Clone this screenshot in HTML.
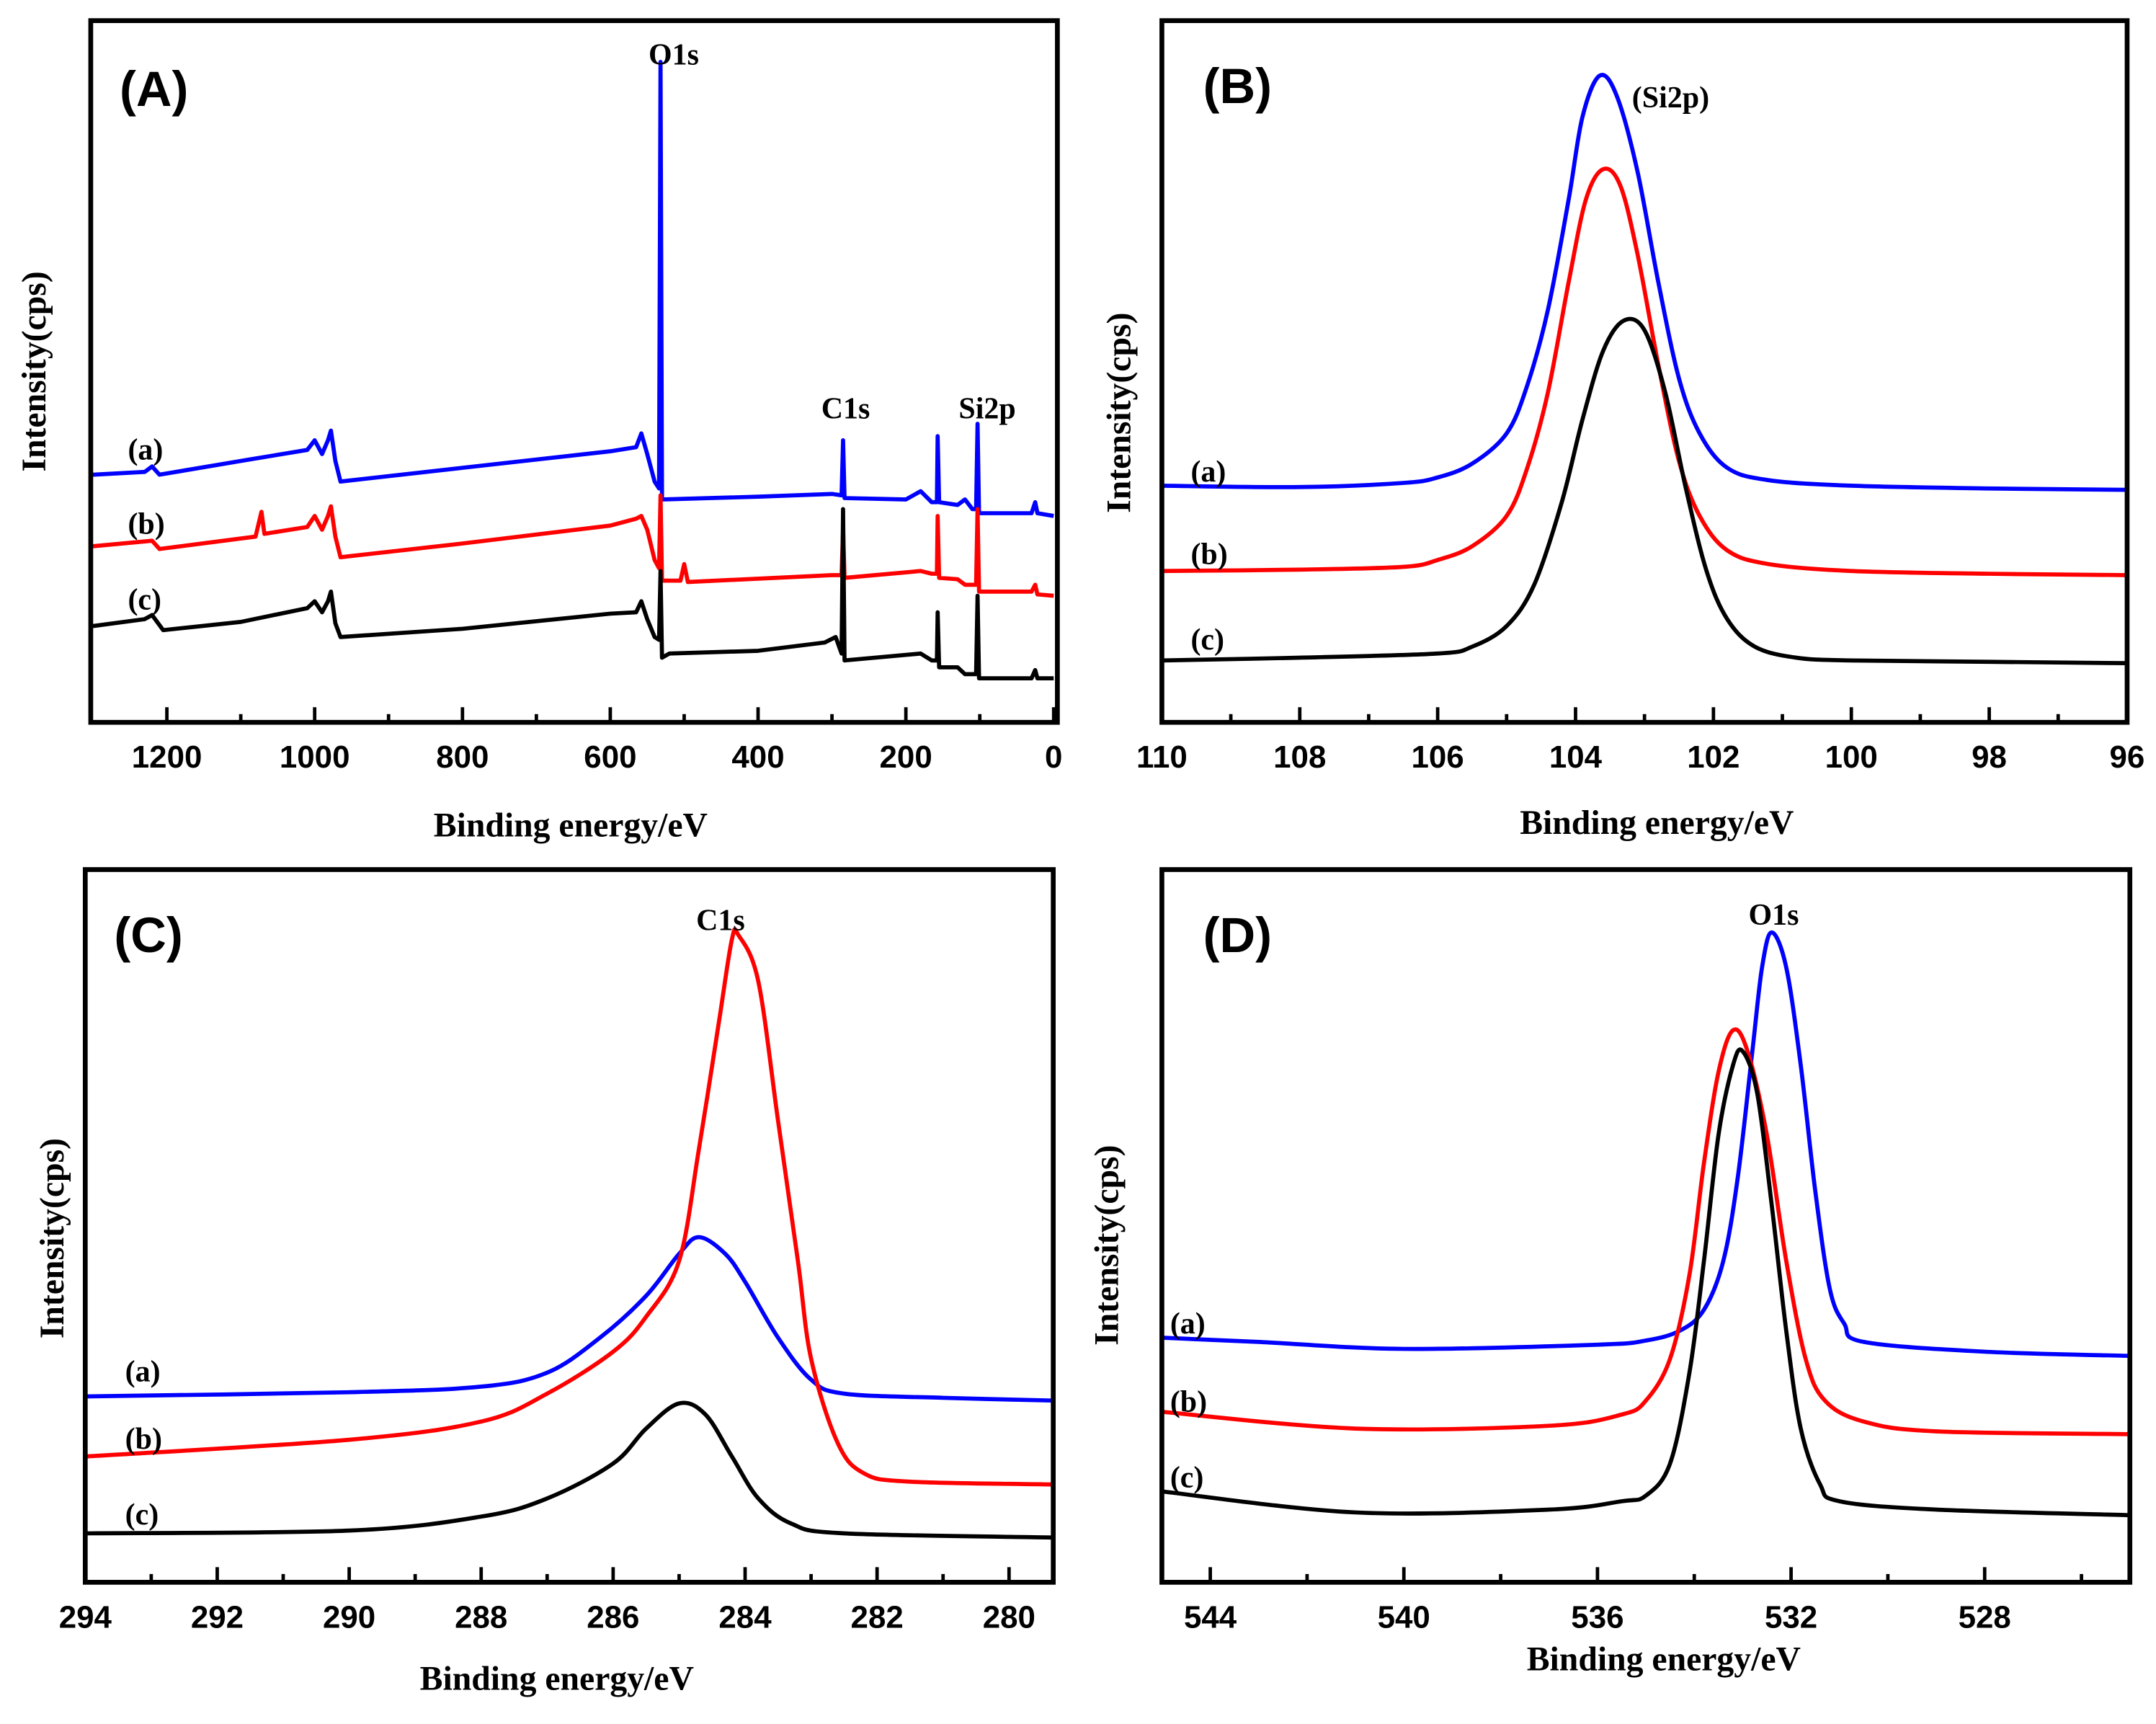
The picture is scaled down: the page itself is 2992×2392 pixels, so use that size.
<!DOCTYPE html>
<html><head><meta charset="utf-8"><style>
html,body{margin:0;padding:0;background:#fff;}
svg{display:block;}
.tk{font-family:"Liberation Sans",sans-serif;font-weight:bold;font-size:23px;}
.ttl{font-family:"Liberation Serif",serif;font-weight:bold;font-size:25px;}
.pl{font-family:"Liberation Sans",sans-serif;font-weight:bold;font-size:36px;}
.sl{font-family:"Liberation Serif",serif;font-weight:bold;font-size:22px;}
</style></head><body>
<svg id="fig" width="2992" height="2392" viewBox="0 0 1568 1253" preserveAspectRatio="none" xmlns="http://www.w3.org/2000/svg"></svg>
<script>
// Panel A (survey)
const aE_blue=[1300,1230,1220,1210,1100,1010,1000,990,982,978,972,965,800,600,565,558,550,540,534,532,530,400,300,287,285,283,200,180,165,158,157,155,130,120,110,105,103,101,30,25,22,0];
const aI_blue=[180,182,186,180,190,198,205,195,205,212,190,175,185,197,200,210,195,175,170,480,162,164,166,165,205,163,162,168,160,160,208,160,158,162,155,155,217,152,152,160,152,150];
const aE_red=[1300,1220,1210,1080,1072,1068,1010,1000,990,982,978,972,965,800,600,565,558,550,540,534,532,530,505,500,495,300,287,285,283,180,165,158,157,155,130,120,105,103,101,30,25,22,0];
const aI_red=[128,132,126,135,153,137,142,150,140,150,157,135,120,130,143,148,150,140,118,112,165,103,103,115,102,107,107,140,105,110,108,108,150,105,104,100,100,155,95,95,100,93,92];
const aE_black=[1300,1230,1220,1205,1100,1010,1000,990,982,978,972,965,800,600,565,558,550,540,534,532,530,520,400,310,295,287,285,283,180,165,158,157,155,130,120,105,103,101,30,25,22,0];
const aI_black=[70,75,78,67,73,83,88,80,88,95,72,62,68,79,80,88,75,62,60,110,47,50,52,58,62,50,155,45,50,45,45,80,40,40,35,35,92,32,32,38,32,32];
// Panel B (Si2p)
const bE_blue=[110,108,106.5,106,105.5,105,104.7,104.4,104.1,103.9,103.65,103.4,103.1,102.8,102.5,102.2,101.8,101.2,100,98,96];
const bI_blue=[172,171,174,178,188,210,245,300,380,440,470,455,400,320,250,210,185,176,172,170,169];
const bE_red=[110,108,106.5,106,105.5,105,104.7,104.4,104.1,103.85,103.6,103.35,103.1,102.8,102.5,102.2,101.8,101.2,100,98,96];
const bI_red=[110,111,113,118,128,150,185,240,320,380,402,390,340,260,190,150,125,115,110,108,107];
const bE_black=[110,108,106,105.5,105,104.6,104.2,103.9,103.6,103.3,103.0,102.7,102.4,102.1,101.8,101.4,100.8,100,98,96];
const bI_black=[45,47,50,55,70,100,160,220,270,292,285,240,170,110,75,55,47,45,44,43];
// Panel C (C1s)
const cE_blue=[294,290,288,287,286.2,285.5,285,284.7,284.3,284,283.5,283,282.5,281,279.3];
const cI_blue=[133,136,140,150,175,205,235,247,235,215,175,145,135,132,130];
const cE_red=[294,290,288,287,286,285.5,285,284.7,284.4,284.2,284.1,283.8,283.5,283.2,283,282.6,282.2,281.5,279.3];
const cI_red=[90,102,115,135,165,190,230,310,400,460,463,430,330,230,160,100,78,72,70];
const cE_black=[294,290,288,287,286,285.5,285,284.6,284.2,283.8,283.3,282.5,279.3];
const cI_black=[35,37,47,60,85,110,128,120,90,60,42,35,32];
// Panel D (O1s)
const dE_blue=[545,543,540,536,535,534.3,533.8,533.4,533.1,532.8,532.6,532.4,532.1,531.8,531.5,531.2,530.9,530.5,528,525];
const dI_blue=[175,172,167,170,173,180,195,230,290,380,440,465,440,370,280,210,185,172,165,162];
const dE_red=[545,541,537,535.5,535,534.5,534.1,533.8,533.5,533.2,532.9,532.5,532.1,531.7,531.3,530.5,529,525];
const dI_red=[122,110,112,120,130,160,220,300,365,395,380,320,230,160,130,115,108,106];
const dE_black=[545,541,537,535.5,535,534.5,534.1,533.8,533.5,533.2,533.0,532.7,532.4,532.1,531.8,531.4,531,529,525];
const dI_black=[65,50,52,58,62,85,150,230,320,370,380,350,270,180,110,70,58,52,48];

const aTicks=[1200,1000,800,600,400,200,0];
const bTicks=[110,108,106,104,102,100,98,96];
const cTicks=[294,292,290,288,286,284,282,280];
const dTicks=[544,540,536,532,528];

const NS='http://www.w3.org/2000/svg';
const svg=document.getElementById('fig');
function mk(tag,attrs,parent){const e=document.createElementNS(NS,tag);for(const k in attrs)e.setAttribute(k,attrs[k]);(parent||svg).appendChild(e);return e;}
function txt(s,x,y,cls,parent,anchor,rot){const t=mk('text',{x:x,y:y,class:cls,'text-anchor':anchor||'middle'},parent);if(rot)t.setAttribute('transform','rotate(-90 '+x+' '+y+')');t.textContent=s;return t;}
function smoothPath(P){
  let d='M'+P[0][0].toFixed(2)+' '+P[0][1].toFixed(2);
  for(let i=0;i<P.length-1;i++){
    const p0=P[Math.max(0,i-1)],p1=P[i],p2=P[i+1],p3=P[Math.min(P.length-1,i+2)];
    const c1=[p1[0]+(p2[0]-p0[0])/6,p1[1]+(p2[1]-p0[1])/6];
    const c2=[p2[0]-(p3[0]-p1[0])/6,p2[1]-(p3[1]-p1[1])/6];
    d+=' C'+c1[0].toFixed(2)+' '+c1[1].toFixed(2)+' '+c2[0].toFixed(2)+' '+c2[1].toFixed(2)+' '+p2[0].toFixed(2)+' '+p2[1].toFixed(2);
  }
  return d;
}

function panel(o){
  const g=mk('g',{});
  
  
  const X=v=>o.x0+(o.xMax-v)/(o.xMax-o.xMin)*(o.x1-o.x0);
  const Y=v=>o.y1-v/510*(o.y1-o.y0);
  for(let v=o.xMinT;v>=o.xMaxT-1e-9;v-=o.minor){
    const isMaj=Math.abs((v-o.ticks[o.ticks.length-1])/o.major-Math.round((v-o.ticks[o.ticks.length-1])/o.major))<1e-6;
    const xt=X(v); if(xt<o.x0+2||xt>o.x1-2)continue;
    const l=mk('line',{x1:xt,x2:xt,y1:o.y1,y2:o.y1-(isMaj?11:6),stroke:'#000','stroke-width':2.5},g);
    
    
  }
  o.ticks.forEach(v=>{const t=txt(String(v),X(v),o.y1+33,'tk',g);
    
    });
  o.series.forEach(s=>{
    const P=s.e.map((e,i)=>[X(e),Y(s.i[i])]);
    const d=o.smooth?smoothPath(P):P.map((p,i)=>(i?'L':'M')+p[0].toFixed(2)+' '+p[1].toFixed(2)).join(' ');
    const p=mk('path',{d:d,fill:'none',stroke:s.c,'stroke-width':3,'stroke-linejoin':'round'},g);
    
    
  });
  const r=mk('rect',{x:o.x0,y:o.y0,width:o.x1-o.x0,height:o.y1-o.y0,fill:'none',stroke:'#000','stroke-width':3.5},g);
  
  
  let t=txt('Binding energy/eV',o.xt[0],o.xt[1],'ttl',g);
  
  
  t=txt('Intensity(cps)',o.yt[0],o.yt[1],'ttl',g,'middle',true);
  
  
  t=txt('('+o.id+')',o.pl[0],o.pl[1],'pl',g);
  
  
  o.labels.forEach(L=>{const tt=txt(L[0],L[1],L[2],'sl',g,'start');
    
    });
  o.peaks.forEach(P=>{const tt=txt(P[0],P[1],P[2],'sl',g);
    
    });
}

panel({id:'A',x0:66,x1:769,y0:15,y1:525,xMax:1303,xMin:-5,ticks:aTicks,major:200,minor:100,xMinT:1300,xMaxT:0,smooth:false,
 series:[{n:'a',c:'#0000ff',e:aE_blue,i:aI_blue},{n:'b',c:'#ff0000',e:aE_red,i:aI_red},{n:'c',c:'#000',e:aE_black,i:aI_black}],
 xt:[415,608],yt:[33,270],pl:[112,77],labels:[['(a)',93,334],['(b)',93,388],['(c)',93,443]],
 peaks:[['O1s',490,47],['C1s',615,304],['Si2p',718,304]]});
panel({id:'B',x0:845,x1:1547,y0:15,y1:525,xMax:110,xMin:96,ticks:bTicks,major:2,minor:1,xMinT:110,xMaxT:96,smooth:true,
 series:[{n:'a',c:'#0000ff',e:bE_blue,i:bI_blue},{n:'b',c:'#ff0000',e:bE_red,i:bI_red},{n:'c',c:'#000',e:bE_black,i:bI_black}],
 xt:[1205,606],yt:[822,300],pl:[900,75],labels:[['(a)',866,350],['(b)',866,410],['(c)',866,472]],
 peaks:[['(Si2p)',1215,78]]});
panel({id:'C',x0:62,x1:766,y0:632,y1:1150,xMax:294,xMin:279.33,ticks:cTicks,major:2,minor:1,xMinT:294,xMaxT:279,smooth:true,
 series:[{n:'a',c:'#0000ff',e:cE_blue,i:cI_blue},{n:'b',c:'#ff0000',e:cE_red,i:cI_red},{n:'c',c:'#000',e:cE_black,i:cI_black}],
 xt:[405,1228],yt:[46,900],pl:[108,692],labels:[['(a)',91,1004],['(b)',91,1053],['(c)',91,1108]],
 peaks:[['C1s',524,676]]});
panel({id:'D',x0:845,x1:1549,y0:632,y1:1150,xMax:545,xMin:525,ticks:dTicks,major:4,minor:2,xMinT:544,xMaxT:526,smooth:true,
 series:[{n:'a',c:'#0000ff',e:dE_blue,i:dI_blue},{n:'b',c:'#ff0000',e:dE_red,i:dI_red},{n:'c',c:'#000',e:dE_black,i:dI_black}],
 xt:[1210,1214],yt:[813,905],pl:[900,692],labels:[['(a)',851,969],['(b)',851,1026],['(c)',851,1081]],
 peaks:[['O1s',1290,672]]});
</script>
</body></html>
